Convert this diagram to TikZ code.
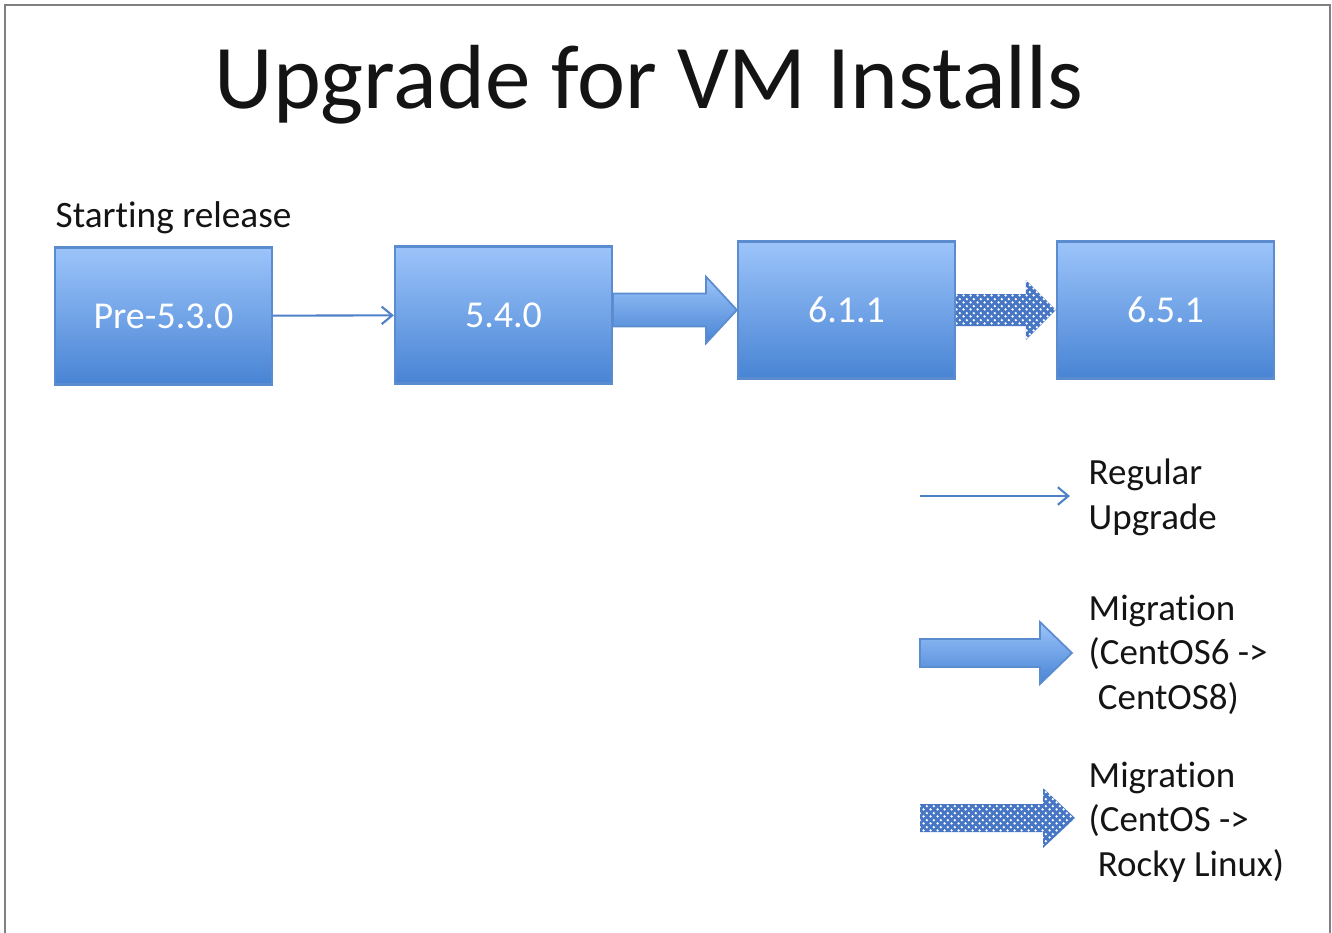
\documentclass[tikz,border=0pt]{standalone}
\usepackage{fontspec}
\setmainfont{Carlito}[Ligatures={NoCommon,NoContextual}]
\usetikzlibrary{arrows.meta,calc,patterns.meta}

\definecolor{boxtop}{RGB}{156,196,250}
\definecolor{boxbot}{RGB}{72,132,212}
\definecolor{boxline}{RGB}{92,140,208}
\definecolor{dotblue}{RGB}{70,118,196}
\definecolor{lineblue}{RGB}{79,129,200}
\definecolor{framegray}{RGB}{128,128,128}
\definecolor{textblack}{RGB}{20,20,20}

% fine staggered dots for the rocky migration arrow
\tikzdeclarepattern{name=fine dots, type=uncolored,
  bounding box={(0pt,0pt) and (1.9pt,1.9pt)}, tile size={(1.9pt,1.9pt)},
  code={\fill (0.475pt,0.475pt) circle (0.38pt) (1.425pt,1.425pt) circle (0.38pt);}}

% block arrow: #1 style, #2 start, #3 tip, #4 shaft half, #5 head half, #6 head length
\newcommand\fatarrow[6]{%
  \path[#1] ($(#2 |- #3)+(0,-#4)$) -- ($(#3)+(-#6,-#4)$) -- ($(#3)+(-#6,-#5)$) -- (#3)
    -- ($(#3)+(-#6,#5)$) -- ($(#3)+(-#6,#4)$) -- ($(#2 |- #3)+(0,#4)$) -- cycle;}

\begin{document}
\begin{tikzpicture}[x=0.01cm,y=-0.01cm,
    release/.style={draw=boxline, line width=0.6pt, top color=boxtop, bottom color=boxbot,
      minimum width=2.17cm, minimum height=1.37cm, text=white, font=\fontsize{10.8}{13}\selectfont},
    upgrade/.style={draw=lineblue, line width=0.6pt, -{Straight Barb[length=3pt,width=5pt]}},
    centosmig/.style={draw=boxline, line width=0.5pt, top color=boxtop, bottom color=boxbot},
    rockymig/.style={fill=dotblue, postaction={pattern=fine dots, pattern color=white}},
    legend/.style={anchor=base west, inner sep=0pt, align=left, text=textblack,
      font=\fontsize{10.5}{12.6}\selectfont}]
    \useasboundingbox (0,0) rectangle (1332,933);

    % Cornice
    \draw[framegray, line width=0.6pt] (5,933) -- (5,5) -- (1330,5) -- (1330,933);

    % Titolo
    \node[anchor=base, text=textblack, font=\fontsize{25.9}{31}\selectfont] (title) at (649,108) {Upgrade for VM Installs};
    \node[anchor=base west, inner sep=0pt, text=textblack, font=\fontsize{10.6}{13}\selectfont] (start) at (55,227) {Starting release};

    % Release
    \node[release] (pre) at (163.5,316) {Pre-5.3.0};
    \node[release] (v540) at (503.5,315) {5.4.0};
    \node[release] (v611) at (846.5,310) {6.1.1};
    \node[release] (v651) at (1165.5,310) {6.5.1};

    % Frecce tra le release
    \draw[upgrade] (pre) -- (v540);
    \fatarrow{centosmig}{v540.east}{v611.west}{16.5}{33.5}{31}
    \fatarrow{rockymig}{v611.east}{v651.west}{16}{30}{30}

    % Legenda (base = ultima riga)
    \coordinate (upA) at (920,496);
    \coordinate (upB) at (1070,496);
    \draw[upgrade] (upA) -- (upB);
    \node[legend] (upText) at (1088,529) {Regular\\Upgrade};

    \coordinate (c8A) at (920,653);
    \coordinate (c8B) at (1072,653);
    \fatarrow{centosmig}{c8A}{c8B}{14}{31}{32}
    \node[legend] (c8Text) at (1088,709) {Migration\\(CentOS6 ->\\\hspace*{0.25em}CentOS8)};

    \coordinate (rlA) at (920,818);
    \coordinate (rlB) at (1075,818);
    \fatarrow{rockymig}{rlA}{rlB}{14}{30}{32}
    \node[legend] (rlText) at (1088,876) {Migration\\(CentOS ->\\\hspace*{0.25em}Rocky Linux)};
\end{tikzpicture}
\end{document}
